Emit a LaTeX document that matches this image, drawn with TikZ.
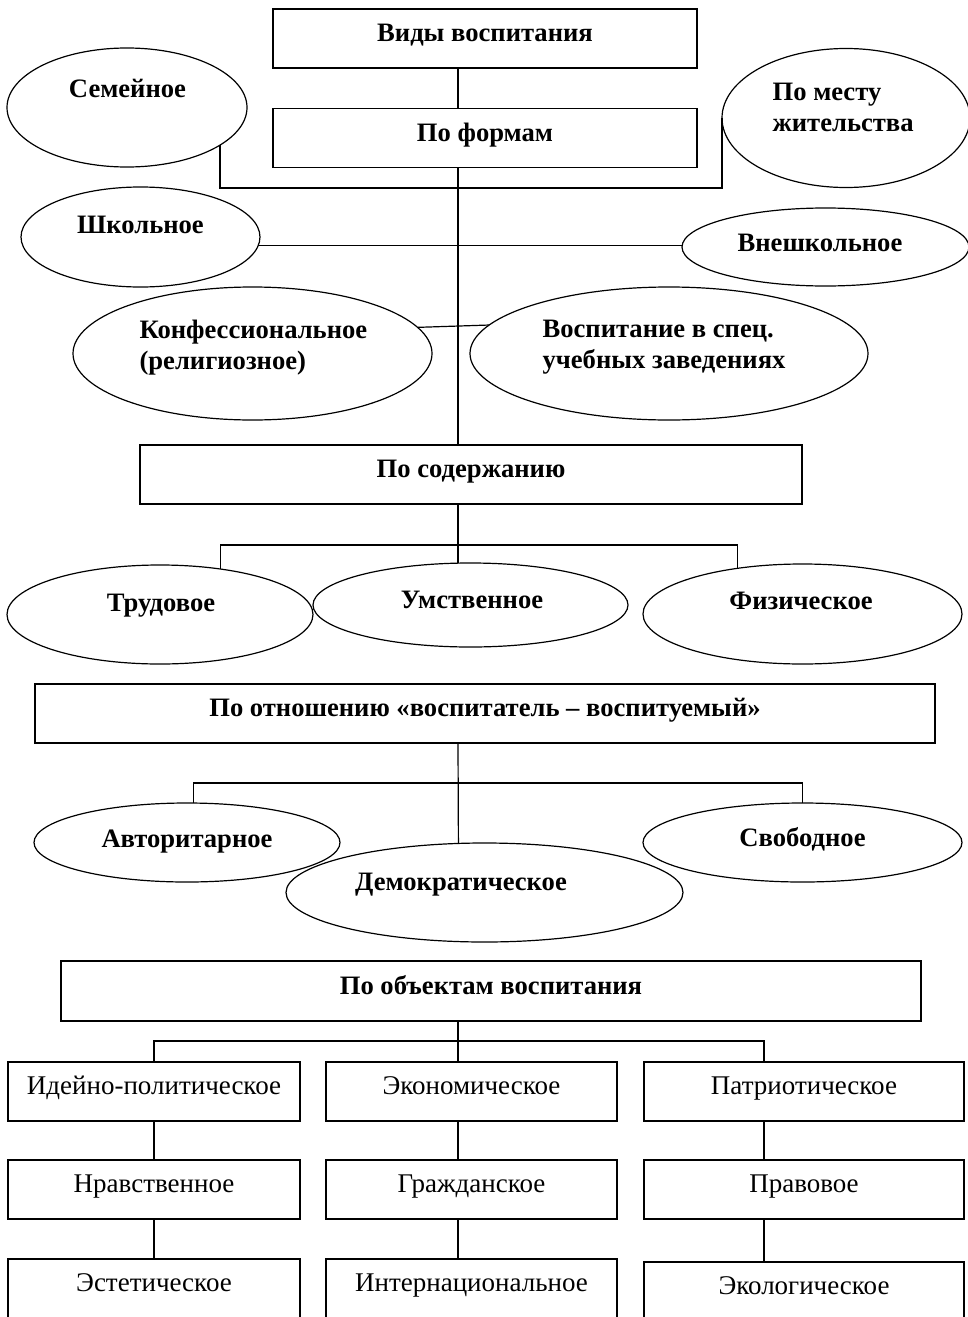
\documentclass[tikz,border=0pt]{standalone}
\usepackage{fontspec}
\setmainfont{Liberation Serif}
\usetikzlibrary{shapes.geometric}
\begin{document}
\begin{tikzpicture}[x=1pt,y=-1pt,line width=1.2pt,
  hbox/.style={draw, rectangle, line width=1.5pt, inner sep=0pt, outer sep=0pt,
    font=\fontsize{26.6}{31.5}\selectfont\bfseries, text height=0.66em, text depth=0em},
  rbox/.style={draw, rectangle, line width=1.5pt, inner sep=0pt, outer sep=0pt,
    font=\fontsize{27}{31.5}\selectfont, text height=0.66em, text depth=0.15em},
  ell/.style={draw, ellipse, inner sep=0pt, outer sep=0pt},
  btxt/.style={font=\fontsize{26.6}{31.5}\selectfont\bfseries, inner sep=0pt, anchor=base},
  mtxt/.style={font=\fontsize{26.6}{31.5}\selectfont\bfseries, inner sep=0pt, anchor=base west}
]
\useasboundingbox (0,0) rectangle (967,1317);
\coordinate (tx) at (458,0);
\coordinate (c3) at (764,0);
\coordinate (busA) at (0,188);
\coordinate (busB) at (0,545);
\coordinate (busC) at (0,783);
\coordinate (busD) at (0,1041);

% header boxes
\node[hbox, minimum width=424, minimum height=59] (vid) at (485,38.5) {Виды воспитания};
\node[hbox, minimum width=424, minimum height=59] (forms) at (485,138) {По формам};
\node[hbox, minimum width=662, minimum height=59] (soder) at (471,474.5) {По содержанию};
\node[hbox, minimum width=900, minimum height=59] (otn) at (485,713.5) {По отношению «воспитатель – воспитуемый»};
\node[hbox, minimum width=860, minimum height=60] (obj) at (491,991) {По объектам воспитания};

% ellipses: forms
\node[ell, minimum width=240, minimum height=119] (sem) at (127,107.5) {};
\node[btxt] at (127.5,97) {Семейное};
\node[ell, minimum width=248, minimum height=139] (mesto) at (846,118) {};
\node[mtxt] at (772,100) {\begin{tabular}[t]{@{}l@{}}По месту\\жительства\end{tabular}};
\node[ell, minimum width=239, minimum height=100] (shk) at (140.5,237) {};
\node[btxt] at (140.5,233) {Школьное};
\node[ell, minimum width=287, minimum height=78] (vnesh) at (825.5,247) {};
\node[btxt] at (820,251) {Внешкольное};
\node[ell, minimum width=359, minimum height=133] (konf) at (252.5,353.5) {};
\node[mtxt] at (139,338) {\begin{tabular}[t]{@{}l@{}}Конфессиональное\\(религиозное)\end{tabular}};
\node[ell, minimum width=398, minimum height=133] (spec) at (669,353.5) {};
\node[mtxt] at (542,337) {\begin{tabular}[t]{@{}l@{}}Воспитание в спец.\\учебных заведениях\end{tabular}};

% ellipses: content
\node[ell, minimum width=306, minimum height=99] (trud) at (160,614.5) {};
\node[btxt] at (161,611) {Трудовое};
\node[ell, minimum width=315, minimum height=84] (umst) at (470.5,605) {};
\node[btxt] at (472,608) {Умственное};
\node[ell, minimum width=319, minimum height=100] (fiz) at (802.5,614) {};
\node[btxt] at (801,609) {Физическое};

% ellipses: relation
\node[ell, minimum width=306, minimum height=79] (avt) at (187,842.5) {};
\node[btxt] at (187,847) {Авторитарное};
\node[ell, minimum width=397, minimum height=99] (demo) at (484.5,892.5) {};
\node[btxt] at (461,890) {Демократическое};
\node[ell, minimum width=319, minimum height=79] (svob) at (802.5,842.5) {};
\node[btxt] at (802.5,846) {Свободное};

% bottom boxes
\node[rbox, minimum width=292, minimum height=59] (ideyn) at (154,1091.5) {Идейно-политическое};
\node[rbox, minimum width=291, minimum height=59] (ekon) at (471.5,1091.5) {Экономическое};
\node[rbox, minimum width=320, minimum height=59] (patr) at (804,1091.5) {Патриотическое};
\node[rbox, minimum width=292, minimum height=59] (nrav) at (154,1189.5) {Нравственное};
\node[rbox, minimum width=291, minimum height=59] (grazh) at (471.5,1189.5) {Гражданское};
\node[rbox, minimum width=320, minimum height=59] (prav) at (804,1189.5) {Правовое};
\node[rbox, minimum width=292, minimum height=59] (est) at (154,1288.5) {Эстетическое};
\node[rbox, minimum width=291, minimum height=59] (inter) at (471.5,1288.5) {Интернациональное};
\node[rbox, minimum width=320, minimum height=59] (ekol) at (804,1291.5) {Экологическое};

% connectors
\draw (vid.south -| tx) -- (forms.north -| tx);
\draw (forms.south -| tx) -- (soder.north -| tx);
\draw (sem.-22) -- (sem.-22 |- busA) -- (mesto.west |- busA) -- (mesto.west);
\draw (shk.-4.9) -- (shk.-4.9 -| vnesh.west);
\draw (konf.9.55) -- (spec.171.4);

\draw (soder.south -| tx) -- (umst.north -| tx);
\draw (trud.37.2) -- (trud.37.2 |- busB) -- (fiz.145.7 |- busB) -- (fiz.145.7);

\draw (otn.south -| tx) -- (demo.118.4);
\draw (avt.81.4) -- (avt.81.4 |- busC) -- (svob.north |- busC) -- (svob.north);

\draw (obj.south -| tx) -- (ekon.north -| tx);
\draw (ideyn.north) |- (busD -| c3) -- (patr.north -| c3);
\draw (ideyn) -- (nrav);
\draw (nrav) -- (est);
\draw (ekon.south -| tx) -- (grazh.north -| tx);
\draw (grazh.south -| tx) -- (inter.north -| tx);
\draw (patr.south -| c3) -- (prav.north -| c3);
\draw (prav.south -| c3) -- (ekol.north -| c3);
\end{tikzpicture}
\end{document}
